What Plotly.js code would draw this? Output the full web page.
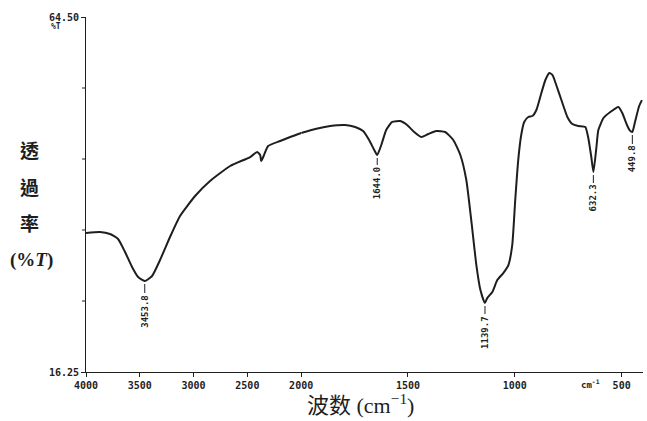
<!DOCTYPE html>
<html>
<head>
<meta charset="utf-8">
<script src="https://cdn.plot.ly/plotly-3.0.1.min.js"></script>
<style>html,body{margin:0;padding:0;background:#fff;}#chart{width:647px;height:421px;}</style>
</head>
<body>
<div id="chart"></div>
<script>
// Wavenumber (cm-1) and transmittance (%T), 4000-2000 region (compressed scale)
var wnHigh = [4000, 3870, 3777, 3702, 3637, 3572, 3516, 3454, 3386, 3312, 3219, 3126, 2986, 2847, 2660, 2474, 2409, 2381, 2372, 2353, 2307, 2195, 2102, 2000];
var tHigh  = [35.14, 35.28, 35.01, 34.33, 32.56, 30.52, 29.16, 28.62, 29.30, 31.47, 34.60, 37.45, 40.17, 42.21, 44.25, 45.47, 46.15, 45.74, 44.93, 45.47, 46.97, 47.65, 48.19, 48.73];
// 2000-400 region (expanded scale)
var wnLow = [2000, 1934, 1864, 1794, 1747, 1710, 1682, 1658, 1644, 1625, 1602, 1574, 1536, 1504, 1471, 1438, 1405, 1368, 1326, 1288, 1255, 1227, 1204, 1180, 1161, 1140, 1129, 1105, 1082, 1054, 1030, 1012, 998, 984, 970, 956, 937, 918, 899, 881, 857, 838, 824, 806, 782, 754, 731, 703, 670, 656, 642, 632, 618, 609, 585, 553, 515, 497, 475, 462, 450, 437, 418, 405];
var tLow  = [48.73, 49.28, 49.68, 49.82, 49.55, 49.00, 47.78, 46.42, 45.74, 47.10, 49.14, 50.23, 50.36, 49.82, 48.87, 48.19, 48.60, 49.00, 48.87, 47.78, 45.74, 42.34, 36.91, 30.79, 27.39, 25.63, 26.31, 27.12, 28.75, 29.70, 30.79, 33.51, 39.63, 45.06, 48.46, 50.23, 50.91, 51.04, 51.86, 53.63, 55.94, 56.89, 56.62, 55.26, 53.22, 50.91, 49.96, 49.68, 49.55, 48.06, 45.47, 43.43, 46.83, 49.14, 50.77, 51.59, 52.27, 51.45, 49.82, 49.10, 48.87, 50.30, 52.40, 53.20];
// Labelled absorption peaks
var peakWn = [3453.8, 1644.0, 1139.7, 632.3, 449.8];
var peakT = [28.62, 45.74, 25.63, 43.43, 48.87];
var peakLabels = ["3453.8", "1644.0", "1139.7", "632.3", "449.8"];
var peakOffset = [30, 28, 29, 26, 27];
// Axis ticks
var xTicksHigh = [4000, 3500, 3000, 2500, 2000];
var xTicksLow = [1500, 1000, 500];
var yLabelVals = [16.25, 64.50];
var yLabelText = ["16.25", "64.50"];
var yMinorVals = [25.90, 35.55, 45.20, 54.85];

var ink = '#1e1e1e';
var tickFont = {family: 'DejaVu Sans Mono', size: 10, color: ink, weight: 'bold'};

var traces = [
  {x: wnHigh, y: tHigh, xaxis: 'x', yaxis: 'y', type: 'scatter', mode: 'lines',
   line: {color: ink, width: 2, shape: 'spline', smoothing: 0.5}, hoverinfo: 'skip'},
  {x: wnLow, y: tLow, xaxis: 'x2', yaxis: 'y', type: 'scatter', mode: 'lines',
   line: {color: ink, width: 2, shape: 'spline', smoothing: 0.5}, hoverinfo: 'skip'}
];

var annotations = [];
for (var i = 0; i < peakWn.length; i++) {
  annotations.push({
    x: peakWn[i], y: peakT[i], xref: peakWn[i] >= 2000 ? 'x' : 'x2', yref: 'y',
    text: peakLabels[i], textangle: -90, showarrow: true, arrowhead: 0, arrowwidth: 1,
    arrowcolor: ink, ax: 0, ay: peakOffset[i], standoff: 3,
    font: {family: 'DejaVu Sans Mono', size: 9, color: ink, weight: 'bold'}
  });
}
var yChars = ['透', '過', '率'];
var yCharPos = [0.6254, 0.5239, 0.4225];
for (var j = 0; j < yChars.length; j++) {
  annotations.push({x: -0.102, y: yCharPos[j], xref: 'paper', yref: 'paper', showarrow: false,
    xanchor: 'center', yanchor: 'middle', text: yChars[j],
    font: {family: 'Noto Sans CJK TC', size: 19, color: ink, weight: 'bold'}});
}
annotations.push({x: -0.097, y: 0.3155, xref: 'paper', yref: 'paper', showarrow: false,
  xanchor: 'center', yanchor: 'middle', text: '(%<i>T</i>)',
  font: {family: 'Liberation Serif', size: 19, color: ink, weight: 'bold'}});
annotations.push({x: -0.054, y: 0.972, xref: 'paper', yref: 'paper', showarrow: false,
  xanchor: 'center', yanchor: 'middle', text: '%T',
  font: {family: 'DejaVu Sans Mono', size: 8, color: ink, weight: 'bold'}});
annotations.push({x: 0.492, y: -0.088, xref: 'paper', yref: 'paper', showarrow: false,
  xanchor: 'center', yanchor: 'middle',
  text: '<span style="font-family:Noto Sans CJK SC">波数</span> (cm<sup>−1</sup>)',
  font: {family: 'Liberation Serif', size: 22, color: ink}});
annotations.push({x: 0.905, y: -0.033, xref: 'paper', yref: 'paper', showarrow: false,
  xanchor: 'center', yanchor: 'middle', text: 'cm<sup>-1</sup>',
  font: {family: 'DejaVu Sans Mono', size: 9, color: ink, weight: 'bold'}});

// minor tick marks on the y axis
var shapes = yMinorVals.map(function (v) {
  return {type: 'line', xref: 'paper', yref: 'y', x0: -0.0072, x1: 0, y0: v, y1: v,
    line: {color: ink, width: 1}};
});

var xCommon = {showline: true, linecolor: ink, linewidth: 1, ticks: 'outside', ticklen: 4,
  tickcolor: ink, tickwidth: 1, showgrid: false, zeroline: false, tickfont: tickFont,
  tickmode: 'array', anchor: 'y', fixedrange: true};

var layout = {
  width: 647, height: 421,
  margin: {l: 86, r: 4, t: 17, b: 49},
  paper_bgcolor: '#fff', plot_bgcolor: '#fff',
  showlegend: false,
  xaxis: Object.assign({}, xCommon, {domain: [0, 0.3863], range: [4000, 2000],
    tickvals: xTicksHigh, ticktext: xTicksHigh.map(String)}),
  xaxis2: Object.assign({}, xCommon, {domain: [0.3863, 1], range: [2000, 400],
    tickvals: xTicksLow, ticktext: xTicksLow.map(String)}),
  yaxis: {range: [16.25, 64.5], showline: true, linecolor: ink, linewidth: 1,
    ticks: 'outside', ticklen: 4, tickcolor: ink, showgrid: false, zeroline: false,
    tickmode: 'array', tickvals: yLabelVals, ticktext: yLabelText, tickfont: tickFont,
    anchor: 'x', fixedrange: true},
  shapes: shapes,
  annotations: annotations
};

Plotly.newPlot('chart', traces, layout, {staticPlot: true, displayModeBar: false});
</script>
</body>
</html>
